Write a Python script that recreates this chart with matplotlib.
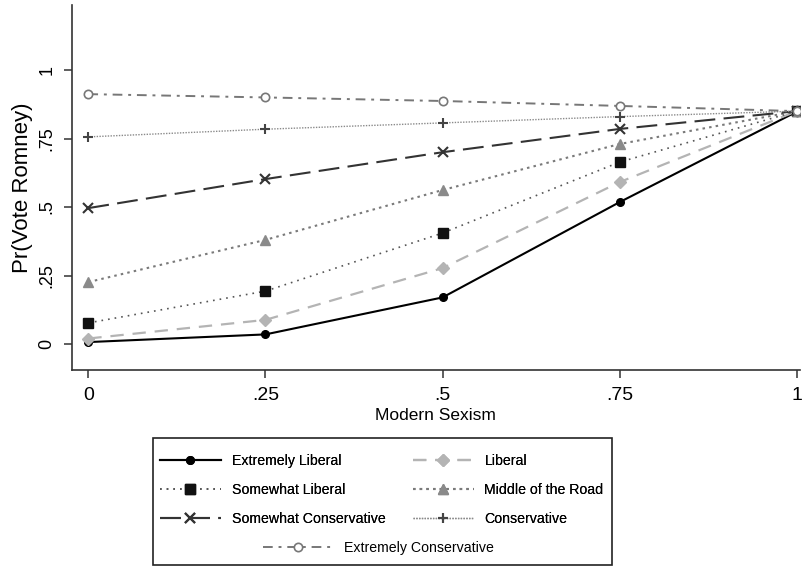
import numpy as np
import matplotlib.pyplot as plt
from matplotlib.patches import Rectangle

plt.rcParams['font.family'] = ['Liberation Sans', 'DejaVu Sans']

# predicted probabilities
sexism = [0, 0.25, 0.5, 0.75, 1]
extremely_liberal = [0.007, 0.035, 0.17, 0.518, 0.848]
liberal = [0.02, 0.088, 0.277, 0.591, 0.85]
somewhat_liberal = [0.077, 0.193, 0.405, 0.664, 0.85]
middle_road = [0.226, 0.38, 0.562, 0.73, 0.85]
somewhat_conservative = [0.496, 0.602, 0.70, 0.785, 0.85]
conservative = [0.756, 0.784, 0.807, 0.83, 0.85]
extremely_conservative = [0.912, 0.90, 0.887, 0.869, 0.85]

x_ticks = [0, 0.25, 0.5, 0.75, 1]
x_labels = ['0', '.25', '.5', '.75', '1']
y_ticks = [0, 0.25, 0.5, 0.75, 1]
y_labels = ['0', '.25', '.5', '.75', '1']

fig = plt.figure(figsize=(8.04, 5.67), dpi=100)
ax = fig.add_axes([0.0896, 0.3474, 0.905, 0.6436])

series = [
    ('Extremely Liberal', extremely_liberal,
     dict(color='black', ls='-', lw=1.5, marker='o', ms=5.5, mfc='black', mec='black')),
    ('Liberal', liberal,
     dict(color='#b4b4b4', ls=(0, (6, 4)), lw=1.6, marker='D', ms=6, mfc='#b4b4b4', mec='#b4b4b4')),
    ('Somewhat Liberal', somewhat_liberal,
     dict(color='#555555', ls=(0, (1, 3)), lw=1.2, marker='s', ms=6.5, mfc='#111111', mec='#111111')),
    ('Middle of the Road', middle_road,
     dict(color='#7a7a7a', ls=(0, (1.2, 2)), lw=1.5, marker='^', ms=7, mfc='#8a8a8a', mec='#8a8a8a')),
    ('Somewhat Conservative', somewhat_conservative,
     dict(color='#333333', ls=(0, (10, 4)), lw=1.5, marker='x', ms=7, mfc='#333333', mec='#333333', mew=1.5)),
    ('Conservative', conservative,
     dict(color='#8a8a8a', ls=(0, (1, 1)), lw=1.0, marker='+', ms=7, mfc='#444444', mec='#444444', mew=1.5)),
    ('Extremely Conservative', extremely_conservative,
     dict(color='#777777', ls=(0, (5, 3, 1.5, 3)), lw=1.4, marker='o', ms=6, mfc='white', mec='#777777', mew=1.2)),
]

handles = []
for name, vals, style in series:
    h, = ax.plot(sexism, vals, label=name, **style)
    handles.append(h)

ax.set_xlim(-0.023, 1.004)
ax.set_ylim(-0.095, 1.237)
ax.set_xticks(x_ticks)
ax.set_xticklabels(x_labels, fontsize=14)
ax.set_yticks(y_ticks)
ax.set_yticklabels(y_labels, fontsize=13, rotation=90, va='center')
ax.set_xlabel('Modern Sexism', fontsize=12.5, labelpad=3)
ax.set_ylabel('Pr(Vote Romney)', fontsize=16, labelpad=4)
for side in ['top', 'right']:
    ax.spines[side].set_visible(False)
for side in ['left', 'bottom']:
    ax.spines[side].set_color('#333333')
    ax.spines[side].set_linewidth(1.2)
ax.tick_params(direction='out', length=6, width=1.1, color='#333333', pad=6)

# legend box drawn by hand so the last entry can sit centred
box = Rectangle((153 / 804, 1 - 565 / 567), (612 - 153) / 804, (565 - 438) / 567,
                transform=fig.transFigure, fill=False, ec='#222222', lw=1.2)
fig.patches.append(box)

# row-wise order for a 2-column legend
order = [0, 2, 4, 1, 3, 5]
leg1 = fig.legend([handles[i] for i in order], [series[i][0] for i in order],
                  ncol=2, frameon=False, fontsize=10.2,
                  loc='upper left', bbox_to_anchor=(160 / 804, 1 - 454 / 567),
                  handlelength=4.3, handletextpad=0.75,
                  columnspacing=1.95, labelspacing=1.05, borderpad=0, borderaxespad=0)
fig.add_artist(leg1)
fig.legend(handles[6:], [series[6][0]], frameon=False, fontsize=10.2,
           loc='upper left', bbox_to_anchor=(263 / 804, 1 - 541 / 567),
           handlelength=5.0, handletextpad=0.75, borderpad=0, borderaxespad=0)

fig.savefig('out.png', dpi=100)
